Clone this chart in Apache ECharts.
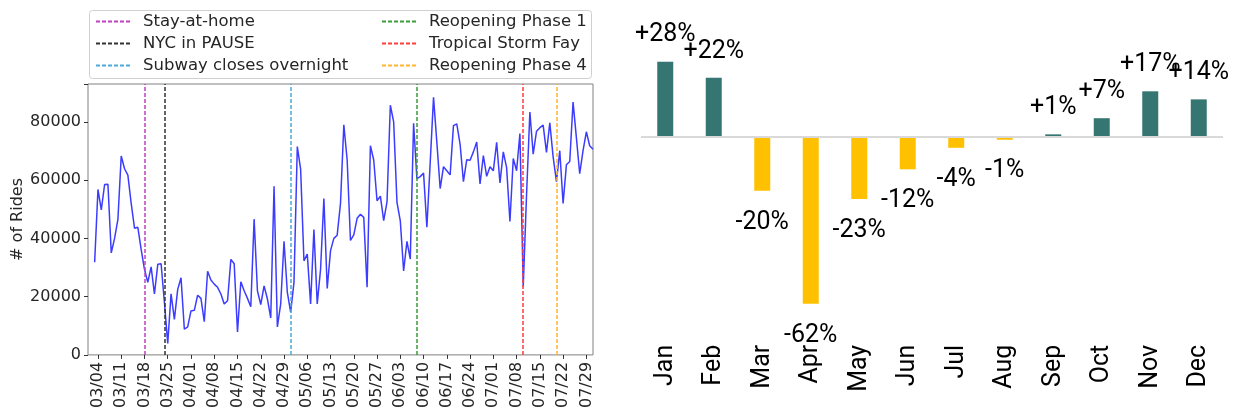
<!DOCTYPE html>
<html>
<head>
<meta charset="utf-8">
<script src="https://cdn.jsdelivr.net/npm/echarts@6/dist/echarts.min.js"></script>
<style>
html,body{margin:0;padding:0;background:#fff;}
#chart{width:1233px;height:411px;}
</style>
</head>
<body>
<div id="chart"></div>
<script>
// ---------- Left panel data ----------
const firstRideDate = '03/03';
const rides = [
  31800, 56800, 49800, 58500, 58600, 35000, 40000, 46500, 68300, 63900,
  61700, 52000, 43500, 43800, 36200, 29400, 24900, 30200, 20900, 31100,
  31300, 18000, 3900, 21000, 12200, 22500, 26500, 8800, 9600, 15100,
  15300, 20500, 19400, 11400, 28700, 25700, 24300, 23200, 20900, 17500,
  18600, 32800, 31300, 7900, 25100, 22000, 19400, 16500, 46600, 22000,
  17300, 23700, 19200, 12700, 57900, 9600, 17500, 39000, 21500, 14700,
  24900, 71500, 63800, 32300, 34600, 17500, 43000, 17500, 29400, 53700,
  22800, 35800, 40000, 41100, 52000, 79000, 67000, 39300, 41200, 46900,
  48300, 47200, 23200, 71800, 66900, 52900, 54500, 46100, 52500, 85700,
  80000, 52400, 46000, 28800, 39000, 32900, 79500, 60500, 61200, 62400,
  43800, 66000, 88400, 73000, 57100, 64600, 63200, 61800, 78700, 79300,
  72300, 59500, 67000, 66800, 69700, 73100, 58700, 68400, 61300, 64600,
  63200, 73000, 59000, 69700, 64300, 45800, 67400, 63200, 76000, 23500,
  55000, 83400, 68900, 76800, 78000, 78900, 69500, 79700, 68000, 59500,
  70100, 52000, 65300, 66400, 86800, 74600, 62200, 70100, 76600, 71800,
  70600
];
const monthDays = [['03', 31], ['04', 30], ['05', 31], ['06', 30], ['07', 31]];
const tickLabels = ['03/04','03/11','03/18','03/25','04/01','04/08','04/15','04/22','04/29',
  '05/06','05/13','05/20','05/27','06/03','06/10','06/17','06/24','07/01','07/08','07/15',
  '07/22','07/29'];
const yTicks = [0, 20000, 40000, 60000, 80000];
const eventNames = ['Stay-at-home', 'NYC in PAUSE', 'Subway closes overnight',
  'Reopening Phase 1', 'Tropical Storm Fay', 'Reopening Phase 4'];
const eventDates = ['03/18', '03/24', '05/01', '06/08', '07/10', '07/20'];
const eventColors = ['#c040c0', '#333333', '#4da9d9', '#3a9c3a', '#ff3c3c', '#ffb530'];

// ---------- Right panel data ----------
const months = ['Jan','Feb','Mar','Apr','May','Jun','Jul','Aug','Sep','Oct','Nov','Dec'];
const changes = [28, 22, -20, -62, -23, -12, -4, -1, 1, 7, 17, 14];
const changeLabels = ['+28%','+22%','-20%','-62%','-23%','-12%','-4%','-1%','+1%','+7%','+17%','+14%'];

// ---------- build ----------
const dates = [];
monthDays.forEach(([m, n]) => { for (let d = 1; d <= n; d++) dates.push(m + '/' + String(d).padStart(2, '0')); });
const offset = dates.indexOf(firstRideDate);
const rideData = dates.map((d, i) => (i < offset || i - offset >= rides.length) ? null : rides[i - offset]);

const showTick = (idx, val) => tickLabels.indexOf(val) >= 0;
const leftFont = 'DejaVu Sans';
const rightFont = 'Roboto';

const eventSeries = eventNames.map((name, i) => ({
  name: name,
  type: 'line',
  xAxisIndex: 0, yAxisIndex: 0,
  data: [],
  symbol: 'none',
  color: eventColors[i],
  lineStyle: { color: eventColors[i], type: [4, 2], width: 1.5 },
  markLine: {
    silent: true,
    symbol: ['none', 'none'],
    label: { show: false },
    lineStyle: { color: eventColors[i], type: [4, 2], width: 1.5 },
    data: [{ xAxis: eventDates[i] }],
    animation: false
  },
  z: 3
}));

const barData = changes.map((v, i) => ({
  value: v,
  itemStyle: { color: v >= 0 ? '#367672' : '#ffc000' },
  label: {
    show: true,
    position: v >= 0 ? 'top' : 'bottom',
    distance: v >= 0 ? 14 : 19,
    formatter: changeLabels[i],
    color: '#000',
    fontSize: 25,
    fontFamily: rightFont
  }
}));

const legendCommon = {
  orient: 'vertical',
  itemWidth: 34,
  itemHeight: 14,
  itemGap: 5,
  padding: 0,
  itemStyle: { opacity: 0, borderWidth: 0 },
  textStyle: { fontSize: 16.5, fontFamily: leftFont, color: '#262626', lineHeight: 16, padding: [0, 0, 0, 8] },
  selectedMode: false
};

const chart = echarts.init(document.getElementById('chart'), null, { renderer: 'canvas' });
chart.setOption({
  animation: false,
  backgroundColor: '#fff',
  graphic: [{
    type: 'rect',
    shape: { x: 89.5, y: 10.5, width: 502, height: 68, r: 3 },
    style: { fill: '#fff', stroke: '#d0d0d0', lineWidth: 1 },
    z: -1
  }],
  legend: [
    Object.assign({}, legendCommon, { left: 95, top: 13, data: eventNames.slice(0, 3) }),
    Object.assign({}, legendCommon, { left: 381, top: 13, data: eventNames.slice(3) })
  ],
  grid: [
    { left: 88, top: 84, width: 505, height: 273, show: true, borderColor: '#808080', borderWidth: 1, backgroundColor: 'transparent' },
    { left: 641, top: 10.6, width: 582, height: 328.2 }
  ],
  xAxis: [
    {
      type: 'category', gridIndex: 0, data: dates, boundaryGap: false,
      axisLine: { show: false },
      axisTick: { show: true, interval: showTick, length: 4, lineStyle: { color: '#333' } },
      axisLabel: { interval: showTick, rotate: 90, margin: 7, fontSize: 16, fontFamily: leftFont, color: '#262626' },
      splitLine: { show: false }
    },
    {
      type: 'category', gridIndex: 1, data: months,
      axisLine: { show: false, onZero: false },
      axisTick: { show: false },
      axisLabel: { rotate: 90, margin: 6, fontSize: 25, fontFamily: rightFont, color: '#000' }
    }
  ],
  yAxis: [
    {
      type: 'value', gridIndex: 0, min: 0, max: 93000, interval: 20000,
      axisLine: { show: false },
      axisTick: { show: true, length: 4, lineStyle: { color: '#333' } },
      axisLabel: { margin: 7, fontSize: 16, fontFamily: leftFont, color: '#262626',
        formatter: v => (yTicks.indexOf(v) >= 0 ? String(v) : '') },
      splitLine: { show: false },
      name: '# of Rides', nameLocation: 'middle', nameRotate: 90, nameGap: 61,
      nameTextStyle: { fontSize: 16, fontFamily: leftFont, color: '#262626' }
    },
    { type: 'value', gridIndex: 1, min: -75, max: 47, show: false }
  ],
  series: [
    {
      name: 'Rides', type: 'line', xAxisIndex: 0, yAxisIndex: 0,
      data: rideData, symbol: 'none', connectNulls: false,
      lineStyle: { color: '#3c3cff', width: 1.5 },
      z: 4
    }
  ].concat(eventSeries).concat([
    {
      name: 'Change', type: 'bar', xAxisIndex: 1, yAxisIndex: 1,
      data: barData, barWidth: 16,
      markLine: {
        silent: true, symbol: ['none', 'none'], label: { show: false },
        lineStyle: { color: '#d9d9d9', type: 'solid', width: 2 },
        data: [{ yAxis: 0 }]
      }
    }
  ])
});
</script>
</body>
</html>
